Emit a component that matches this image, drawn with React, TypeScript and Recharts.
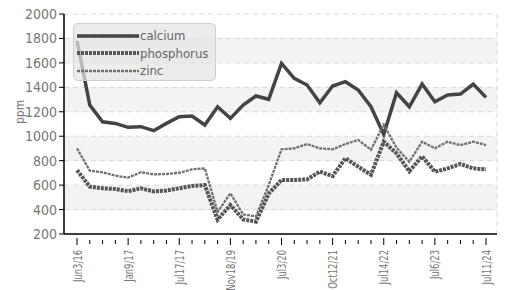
import React from 'react';
import { LineChart, Line, XAxis, YAxis, CartesianGrid, Legend } from 'recharts';

const dates = [
  'Jun3/16', 'Jul28/16', 'Sep15/16', 'Nov10/16',
  'Jan9/17', 'Mar6/17', 'Apr27/17', 'Jun5/17',
  'Jul17/17', 'Sep20/17', 'Jan16/18', 'Feb6/19',
  'Nov18/19', 'Jan13/20', 'Mar2/20', 'May11/20',
  'Jul3/20', 'Sep8/20', 'Dec1/20', 'Apr5/21',
  'Oct12/21', 'Dec7/21', 'Feb15/22', 'Apr26/22',
  'Jul14/22', 'Sep6/22', 'Nov14/22', 'Feb7/23',
  'Jul6/23', 'Oct3/23', 'Jan8/24', 'Apr15/24',
  'Jul11/24',
];
const calcium = [
  1780, 1255, 1118, 1105, 1073, 1078, 1045, 1105,
  1160, 1165, 1092, 1241, 1146, 1255, 1329, 1302,
  1596, 1473, 1419, 1274, 1411, 1446, 1378, 1241,
  1015, 1356, 1241, 1427, 1282, 1337, 1345, 1427,
  1318,
];
const phosphorus = [
  722, 587, 574, 568, 550, 574, 548, 556,
  574, 593, 601, 318, 437, 320, 301, 530,
  642, 642, 647, 710, 674, 819, 751, 685,
  955, 860, 714, 835, 710, 737, 773, 737,
  729,
];
const zinc = [
  901, 718, 705, 677, 661, 705, 688, 691,
  701, 729, 737, 380, 533, 360, 344, 600,
  893, 901, 936, 901, 893, 936, 969, 890,
  1095, 905, 791, 955, 901, 955, 928, 955,
  928,
];
const yTicks = [200, 400, 600, 800, 1000, 1200, 1400, 1600, 1800, 2000];

const data = dates.map((d, i) => ({ date: d, calcium: calcium[i], phosphorus: phosphorus[i], zinc: zinc[i] }));

const FONT = '"Liberation Sans Narrow", "DejaVu Sans Condensed", "Roboto", sans-serif';

const series = [
  { key: 'calcium', color: '#444', width: 3.5, dash: undefined as string | undefined },
  { key: 'phosphorus', color: '#555', width: 4, dash: '3 1' },
  { key: 'zinc', color: '#707070', width: 2.3, dash: '3 1' },
];

function XTick(props: any) {
  const { x, y, payload, index } = props;
  const major = index % 4 === 0;
  return (
    <g>
      <line x1={x} x2={x} y1={y - (major ? 4 : 2)} y2={y + (major ? 3 : 2)} stroke="#000" strokeWidth={1} />
      {major && (
        <text x={0} y={0} transform={`translate(${x},${y + 8}) rotate(-90) scale(0.72,1)`} textAnchor="end" dy={4.5}
          fill="#777" fontSize={13} fontFamily={FONT}>
          {payload.value}
        </text>
      )}
    </g>
  );
}

function LegendBox() {
  return (
    <div style={{
      background: 'rgba(228,228,228,0.72)', border: '1px solid #cfcfcf', borderRadius: 5,
      width: 143, height: 58, boxSizing: 'border-box', padding: '3px 0 0 2px', fontFamily: FONT,
      fontSize: 13, color: '#666', lineHeight: '17.5px',
    }}>
      {series.map(s => (
        <div key={s.key} style={{ display: 'flex', alignItems: 'center' }}>
          <svg width={64} height={10}>
            <line x1={1} x2={63} y1={5} y2={5} stroke={s.color} strokeWidth={s.width} strokeDasharray={s.dash} />
          </svg>
          <span>{s.key}</span>
        </div>
      ))}
    </div>
  );
}

export default function App() {
  return (
    <div style={{ position: 'fixed', left: 0, top: 0, width: 506, height: 290, background: '#fff' }}>
      <LineChart width={506} height={290} data={data} margin={{ top: 14, right: 9, bottom: 0, left: 0 }}>
        <CartesianGrid stroke="#d8d8d8" strokeDasharray="5 4" xAxisId="grid"
          horizontalFill={['#fff', '#f3f3f3']} />
        <XAxis dataKey="date" interval={0} height={56} padding={{ left: 13, right: 11 }}
          axisLine={{ stroke: '#000', strokeWidth: 1.5 }} tickLine={false} tick={<XTick />} />
        <XAxis xAxisId="grid" dataKey="date" interval={1} height={0} padding={{ left: 13, right: 11 }}
          axisLine={false} tickLine={false} tick={false} />
        <YAxis domain={[200, 2000]} ticks={yTicks} width={64} interval={0}
          axisLine={{ stroke: '#000', strokeWidth: 1.5 }} tickLine={{ stroke: '#000' }} tickSize={5}
          tick={{ fill: '#777', fontSize: 14, fontFamily: FONT }}
          label={{ value: 'ppm', angle: -90, position: 'insideLeft', offset: 20, fill: '#777', fontSize: 12, fontFamily: FONT }} />
        <Legend content={<LegendBox />} layout="vertical" align="center" verticalAlign="middle"
          wrapperStyle={{ position: 'absolute', left: 73, top: 23, width: 'auto' }} />
        {series.map(s => (
          <Line key={s.key} type="linear" dataKey={s.key} stroke={s.color} strokeWidth={s.width}
            strokeDasharray={s.dash} dot={false} isAnimationActive={false} />
        ))}
      </LineChart>
    </div>
  );
}
